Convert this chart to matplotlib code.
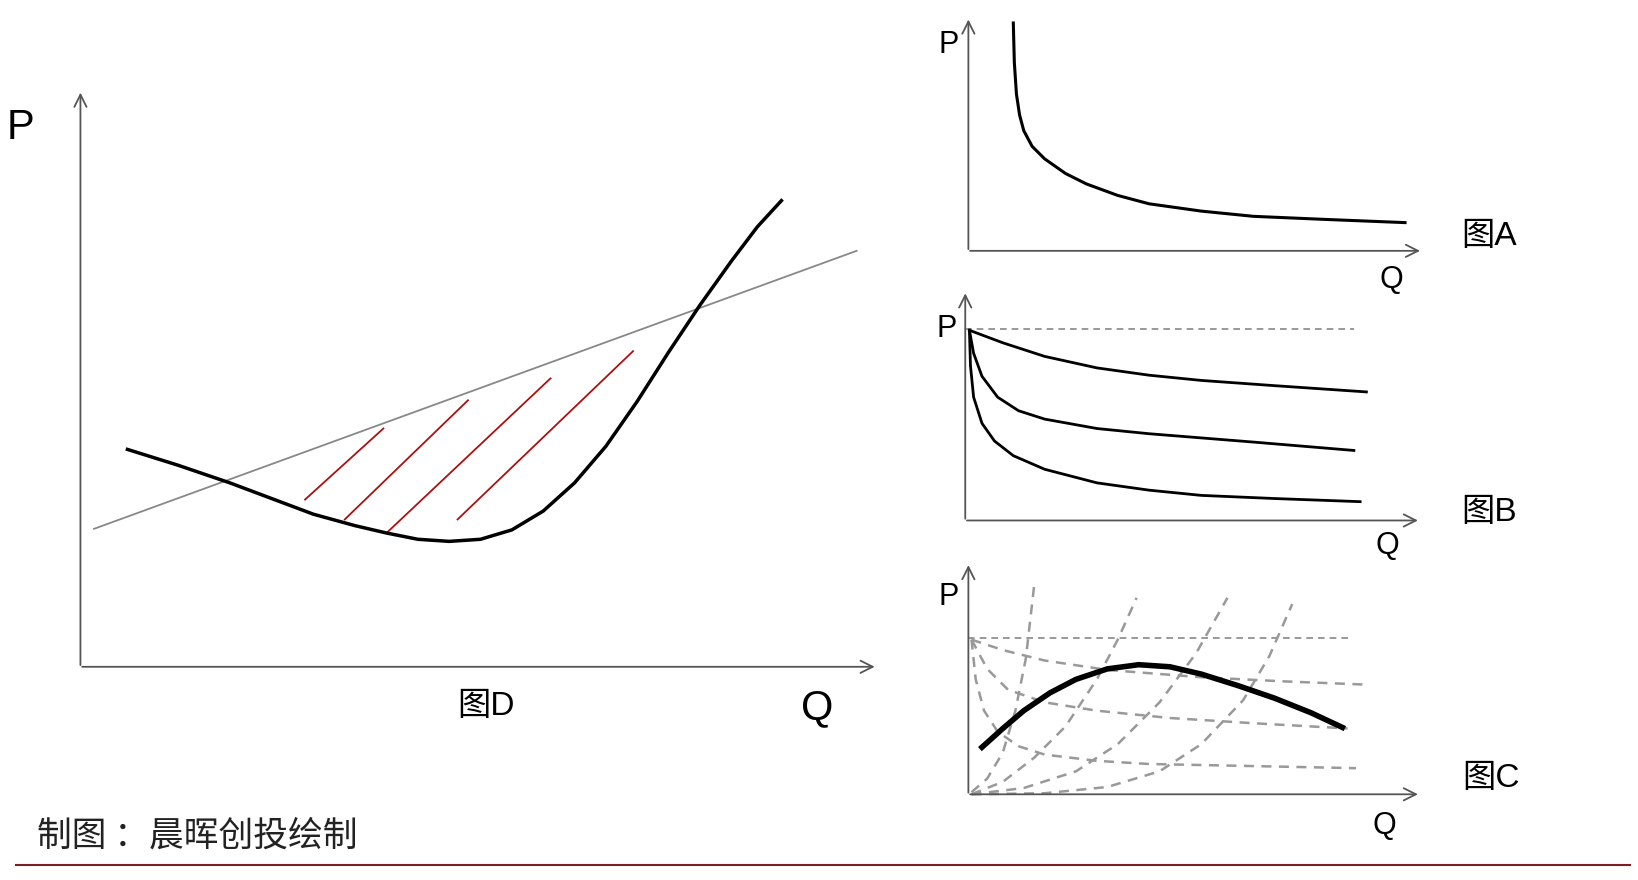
import matplotlib
matplotlib.use("Agg")
import matplotlib.pyplot as plt
import numpy as np

plt.rcParams['font.family'] = ['Liberation Sans', 'Noto Sans CJK SC', 'DejaVu Sans']

# Schematic curves (canvas coordinates, y downward)
d_curve_x = [122,170,220,260,300,340,370,400,430,460,490,520,550,580,610,640,670,700,725,748]
d_curve_y = [430,445,462,477,492,503,510,516,518,516,507,489,462,427,384,337,292,250,217,192]
d_line_x = [90,820]
d_line_y = [506,240]
hatch = [((292,478),(367,410)),((330,497),(448,383)),((370,510),(527,362)),((438,497),(606,336))]

a_x = [970,971,973,976,980,988,1000,1020,1040,1070,1100,1150,1200,1270,1345]
a_y = [22,60,90,110,125,140,152,166,176,187,195,202,207,210,213]

b_curves = [
    ([928,960,1000,1050,1100,1150,1220,1308],[316,328,341,352,359,364,369,375]),
    ([928,932,940,955,975,1000,1050,1100,1200,1296],[316,338,360,380,393,401,410,415,423,431]),
    ([928,929,932,940,952,970,1000,1050,1100,1150,1220,1302],[316,350,380,405,422,436,449,462,469,474,477,480]),
]

c_dec = [
    ([930,960,1000,1060,1150,1230,1306],[612,622,632,641,648,652,655]),
    ([930,945,965,1000,1050,1120,1200,1290],[612,640,660,672,680,687,692,697]),
    ([930,934,942,955,975,1000,1050,1100,1200,1298],[612,650,680,700,714,722,728,731,733,735]),
]
c_inc = [
    ([930,945,960,972,982,990],[758,745,720,680,630,560]),
    ([930,960,990,1020,1050,1070,1088],[760,748,725,695,650,612,572]),
    ([930,980,1030,1070,1110,1145,1175],[760,754,738,712,672,625,572]),
    ([930,1000,1060,1110,1150,1190,1215,1237],[760,759,753,738,712,670,628,578]),
]
c_thick_x = [940,960,980,1005,1030,1060,1090,1120,1150,1185,1220,1255,1285]
c_thick_y = [715,697,680,663,650,640,636,638,645,656,668,682,696]

fig = plt.figure(figsize=(16.38, 8.8), dpi=100)
ax = fig.add_axes([0, 0, 1, 1])
ax.set_xlim(0, 1568)
ax.set_ylim(842, 0)
ax.axis('off')

def axes_arrows(ox, oy, ytop, xright):
    kw = dict(arrowstyle='->', color='#555555', lw=1.3, mutation_scale=22)
    ax.annotate('', xy=(ox, ytop), xytext=(ox, oy + 1), arrowprops=kw)
    ax.annotate('', xy=(xright, oy), xytext=(ox - 1, oy), arrowprops=kw)

# Panel D
axes_arrows(77, 638, 86, 840)
ax.plot(d_line_x, d_line_y, color='#888888', lw=1.3)
for (p0, p1) in hatch:
    ax.plot([p0[0], p1[0]], [p0[1], p1[1]], color='#aa1111', lw=1.3)
ax.plot(d_curve_x, d_curve_y, color='black', lw=2.5, solid_joinstyle='round')
ax.text(20, 122, 'P', fontsize=30, ha='center', va='center')
ax.text(782, 678, 'Q', fontsize=30, ha='center', va='center')
ax.text(465, 676, '图D', fontsize=24, ha='center', va='center')

# Panel A
axes_arrows(927, 240, 16, 1362)
ax.plot(a_x, a_y, color='black', lw=2.2)
ax.text(908, 43, 'P', fontsize=22, ha='center', va='center')
ax.text(1332, 268, 'Q', fontsize=22, ha='center', va='center')
ax.text(1425, 226, '图A', fontsize=24, ha='center', va='center')

# Panel B
axes_arrows(924, 498, 278, 1360)
ax.plot([924, 1296], [315, 315], color='#888888', lw=1.2, ls=(0, (4, 3)))
for xs, ys in b_curves:
    ax.plot(xs, ys, color='black', lw=2.0)
ax.text(906, 315, 'P', fontsize=22, ha='center', va='center')
ax.text(1328, 522, 'Q', fontsize=22, ha='center', va='center')
ax.text(1425, 490, '图B', fontsize=24, ha='center', va='center')

# Panel C
axes_arrows(927, 760, 538, 1360)
ax.plot([927, 1294], [610, 610], color='#888888', lw=1.2, ls=(0, (4, 3)))
for xs, ys in c_dec + c_inc:
    ax.plot(xs, ys, color='#999999', lw=1.8, ls=(0, (4, 3)))
ax.plot(c_thick_x, c_thick_y, color='black', lw=4, solid_joinstyle='round')
ax.text(908, 571, 'P', fontsize=22, ha='center', va='center')
ax.text(1325, 790, 'Q', fontsize=22, ha='center', va='center')
ax.text(1427, 745, '图C', fontsize=24, ha='center', va='center')

# Footer
ax.text(35, 800, '制图 ：晨晖创投绘制', fontsize=25, fontweight='medium', ha='left', va='center',
        family=['Noto Sans CJK SC', 'DejaVu Sans'], color='#222222')
ax.plot([15, 1560], [828, 828], color='#7a1f1f', lw=1.5)

fig.savefig('out.png', dpi=100)
